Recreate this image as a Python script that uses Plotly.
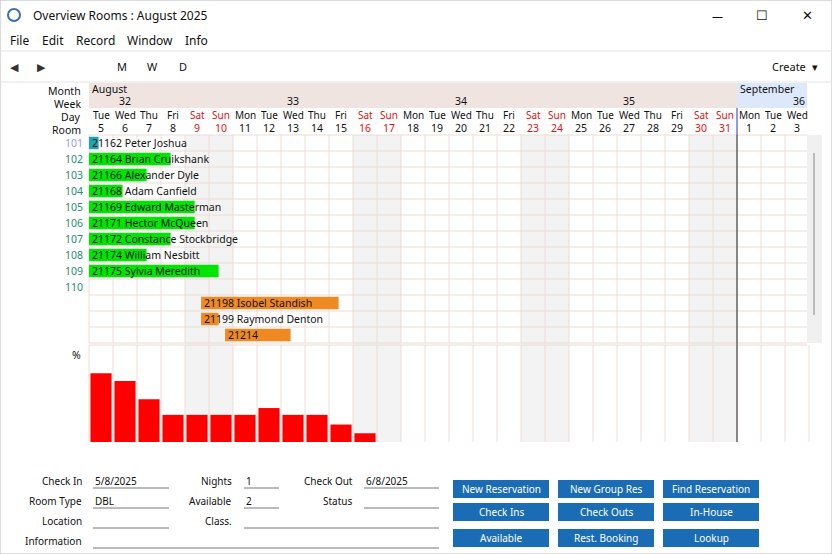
import plotly.graph_objects as go

W, H = 832, 554
COL = 24.0
X0 = 89

day_names = ["Tue", "Wed", "Thu", "Fri", "Sat", "Sun", "Mon"] * 5
day_names = day_names[:30]
day_numbers = list(range(5, 32)) + [1, 2, 3]
week_labels = ["32", "33", "34", "35", "36"]
week_cols = [1.5, 8.5, 15.5, 22.5, 29.5]
rooms = ["101", "102", "103", "104", "105", "106", "107", "108", "109", "110"]

res_labels = ["21162 Peter Joshua", "21164 Brian Cruikshank", "21166 Alexander Dyle",
              "21168 Adam Canfield", "21169 Edward Masterman", "21171 Hector McQueen",
              "21172 Constance Stockbridge", "21174 William Nesbitt", "21175 Sylvia Meredith",
              "21198 Isobel Standish", "21199 Raymond Denton", "21214"]
res_rows = [0, 1, 2, 3, 4, 5, 6, 7, 8, 10, 11, 12]
res_start = [0, 0, 0, 0, 0, 0, 0, 0, 0, 4.67, 4.67, 5.67]
res_end = [0.4, 3.4, 2.4, 1.4, 4.4, 4.4, 3.4, 2.4, 5.4, 10.4, 5.4, 8.4]
res_colors = ["#1aa8b0"] + ["#00e600"] * 8 + ["#ef8a22"] * 3

occupancy = [71, 63, 44, 28, 28, 28, 28, 35, 28, 28, 18, 9]

FONT = "Noto Sans"


def px(x):
    return x / W


def py(y):
    return 1 - y / H


fig = go.Figure()
shapes = []
ann = []


def rect(x0, y0, x1, y1, fill, line=None):
    shapes.append(dict(type="rect", xref="paper", yref="paper", x0=px(x0), x1=px(x1),
                       y0=py(y1), y1=py(y0), fillcolor=fill,
                       line=dict(width=1 if line else 0, color=line or fill), layer="below"))


def hline(x0, x1, y, color, width=1):
    shapes.append(dict(type="line", xref="paper", yref="paper", x0=px(x0), x1=px(x1),
                       y0=py(y), y1=py(y), line=dict(color=color, width=width)))


def text(x, y, s, anchor="left", size=11, color="#111", family=FONT):
    ann.append(dict(xref="paper", yref="paper", x=px(x), y=py(y), text=s, showarrow=False,
                    xanchor=anchor, yanchor="middle", font=dict(size=size, color=color, family=family)))


# window chrome
rect(0, 0, W, H, "#ffffff", "#b8b8b8")
shapes.append(dict(type="circle", xref="paper", yref="paper", x0=px(8), x1=px(20), y0=py(21), y1=py(9),
                   line=dict(color="#3a6fb5", width=2)))
text(31, 15, "Overview Rooms : August 2025", size=12)
text(717, 15, "—", "center", 11)
text(762, 15, "☐", "center", 13)
text(807, 15, "✕", "center", 13)
for lbl, x in zip(["File", "Edit", "Record", "Window", "Info"], [8, 40, 74, 125, 183]):
    text(x, 41, lbl, size=12)
hline(0, W, 51, "#e4e4e4")
text(15, 67, "◀", "center", 11, "#333")
text(41, 67, "▶", "center", 11, "#333")
for lbl, x in zip(["M", "W", "D"], [122, 152, 183]):
    text(x, 67, lbl, "center", 11)
text(770, 67, "Create  ▾", size=11)
hline(0, W, 82, "#e4e4e4")

# header bands
rect(X0, 83, 737, 108, "#efe4e0")
rect(737, 83, 807, 108, "#dde8fb")
for lbl, y in zip(["Month", "Week", "Day", "Room"], [91, 104, 117, 130]):
    text(83, y, lbl, "right", 10.5)
text(90, 89, "August", size=10.5)
text(738, 89, "September", size=10.5)
for lbl, c in zip(week_labels, week_cols):
    if lbl == "36":
        text(X0 + 30 * COL - 2, 101, lbl, "right", 10.5)
    else:
        text(X0 + c * COL, 101, lbl, "center", 10.5)
for i, (dn, dd) in enumerate(zip(day_names, day_numbers)):
    col = "#e01010" if dn in ("Sat", "Sun") else "#111"
    text(X0 + (i + 0.5) * COL, 115, dn, "center", 10, col)
    text(X0 + (i + 0.5) * COL, 128, str(dd), "center", 10.5, col)
    if dn in ("Sat", "Sun"):
        rect(X0 + i * COL, 135, X0 + (i + 1) * COL, 442, "#f3f3f3")

# grid
for i in range(31):
    xx = X0 + i * COL
    shapes.append(dict(type="line", xref="paper", yref="paper", x0=px(xx), x1=px(xx), y0=py(343),
                       y1=py(135), line=dict(color="#eadcd6", width=1), layer="below"))
    shapes.append(dict(type="line", xref="paper", yref="paper", x0=px(xx), x1=px(xx), y0=py(442),
                       y1=py(345), line=dict(color="#eadcd6", width=1), layer="below"))
for r in range(14):
    hline(X0, 807, 135 + r * 16, "#eadcd6")
hline(X0, 807, 345, "#eadcd6")
rect(807, 135, 822, 343, "#f0f0f0")
shapes.append(dict(type="line", xref="paper", yref="paper", x0=px(814), x1=px(814), y0=py(315), y1=py(153),
                   line=dict(color="#888", width=1)))
shapes.append(dict(type="line", xref="paper", yref="paper", x0=px(737), x1=px(737), y0=py(442), y1=py(135),
                   line=dict(color="#222", width=1)))
shapes.append(dict(type="line", xref="paper", yref="paper", x0=px(737), x1=px(737), y0=py(135), y1=py(108),
                   line=dict(color="#2030d0", width=1)))

for i, rm in enumerate(rooms):
    text(85, 144 + i * 16 - 1, rm, "right", 10.5, "#9a9af0" if i == 0 else "#2a8a74")
text(83, 355, "%", "right", 10.5)

# reservations
fig.add_trace(go.Bar(
    y=res_rows, x=[e - s for s, e in zip(res_start, res_end)], base=res_start,
    orientation="h", marker=dict(color=res_colors, line=dict(width=0)), width=0.78,
    xaxis="x", yaxis="y", hoverinfo="skip", showlegend=False))
for lbl, r, s in zip(res_labels, res_rows, res_start):
    ann.append(dict(xref="x", yref="y", x=s + 0.03, y=r, text=lbl, showarrow=False, xanchor="left",
                    yanchor="middle", font=dict(size=10.5, color="#111", family=FONT)))

# occupancy histogram
fig.add_trace(go.Bar(
    x=[i + 0.5 for i in range(len(occupancy))], y=occupancy, width=0.88,
    marker=dict(color="#ff0000", line=dict(width=0)), xaxis="x", yaxis="y2",
    hoverinfo="skip", showlegend=False))

# bottom form
form_labels = [("Check In", 84, 481), ("Room Type", 84, 501), ("Location", 84, 521), ("Information", 84, 541),
               ("Nights", 234, 481), ("Available", 234, 501), ("Class.", 234, 521),
               ("Check Out", 355, 481), ("Status", 355, 501)]
for lbl, x, y in form_labels:
    text(x, y, lbl, "right", 10)
fields = [(93, 169, 488, "5/8/2025"), (93, 169, 508, "DBL"), (93, 169, 528, ""), (93, 439, 548, ""),
          (244, 279, 488, "1"), (244, 279, 508, "2"), (244, 439, 528, ""),
          (364, 439, 488, "6/8/2025"), (364, 439, 508, "")]
for x0, x1, y, v in fields:
    hline(x0, x1, y, "#777")
    if v:
        text(x0, y - 7, v, "left", 10)
buttons = [["New Reservation", "New Group Res", "Find Reservation"],
           ["Check Ins", "Check Outs", "In-House"],
           ["Available", "Rest. Booking", "Lookup"]]
for row, y0 in zip(buttons, [480, 503, 529]):
    for lbl, x0 in zip(row, [453, 558, 663]):
        rect(x0, y0, x0 + 96, y0 + 18, "#1a6db4")
        text(x0 + 48, y0 + 9, lbl, "center", 10, "#ffffff")

fig.update_layout(
    width=W, height=H, margin=dict(l=0, r=0, t=0, b=0),
    paper_bgcolor="#ffffff", plot_bgcolor="rgba(0,0,0,0)", barmode="overlay",
    xaxis=dict(range=[-X0 / COL, (W - X0) / COL], domain=[0, 1], visible=False, fixedrange=True),
    yaxis=dict(range=[12.5, -0.5], domain=[py(343), py(135)], visible=False, fixedrange=True),
    yaxis2=dict(range=[0, 100], domain=[py(442), py(345)], visible=False, fixedrange=True),
    shapes=shapes, annotations=ann,
)
fig.write_html("out.html", config={"displayModeBar": False},
               post_script="document.body.style.margin='0';document.body.style.overflow='hidden';")
